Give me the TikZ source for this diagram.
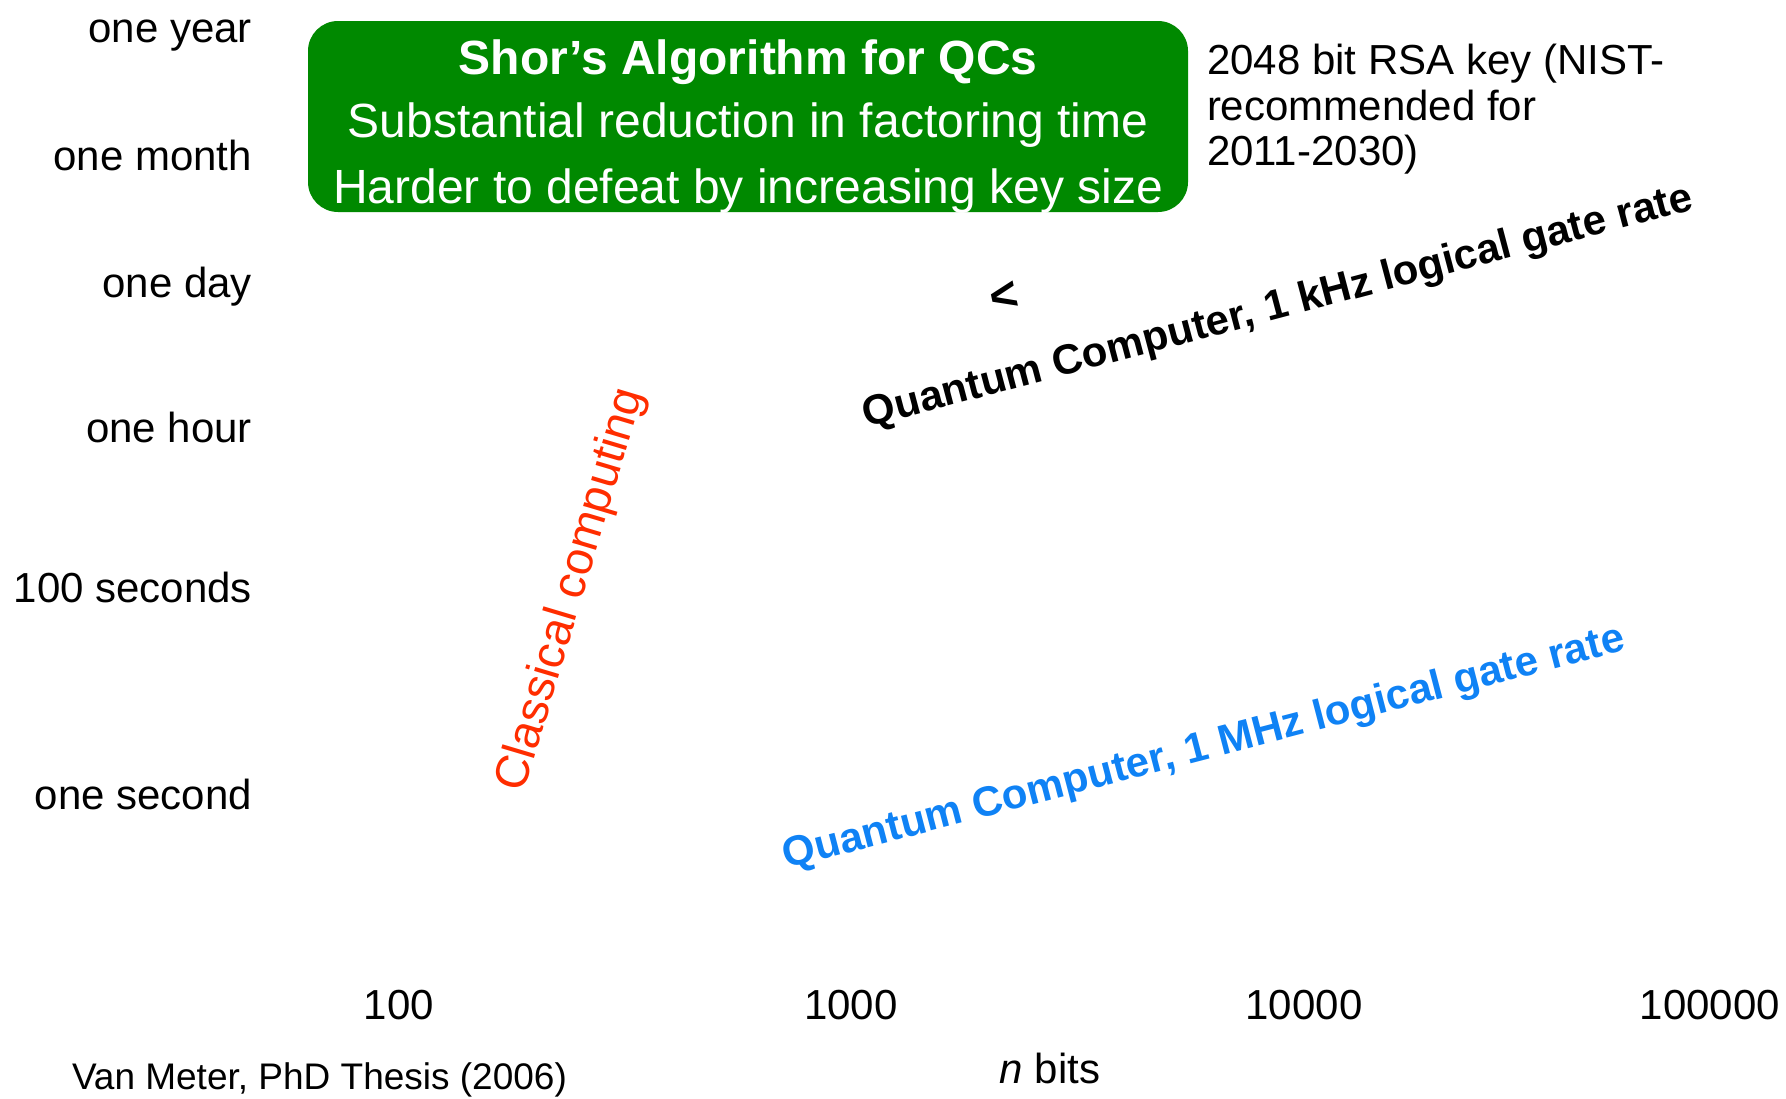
\documentclass[tikz,border=0pt]{standalone}
\usepackage{fontspec}
\setmainfont{Liberation Sans}
\definecolor{shorgreen}{RGB}{0,137,0}
\definecolor{classred}{RGB}{255,45,0}
\definecolor{qcblue}{RGB}{15,130,245}
\tikzset{
  lab/.style={inner sep=0pt, outer sep=0pt, font=\fontsize{42}{46}\selectfont},
  ylab/.style={lab, anchor=base east},
  xlab/.style={lab, anchor=base},
  rsa/.style={lab, anchor=base west},
  shorbox/.style={fill=shorgreen, draw=none, rounded corners=30pt,
    minimum width=880pt, minimum height=191pt, inner sep=0pt},
  boxline/.style={inner sep=0pt, anchor=base, text=white,
    font=\fontsize{48}{52}\selectfont},
  boxtitle/.style={boxline, font=\fontsize{48}{52}\selectfont\bfseries},
  curve/.style={inner sep=0pt, font=\fontsize{42}{46}\selectfont\bfseries},
}
\begin{document}
\begin{tikzpicture}[x=1pt, y=-1pt]
  \useasboundingbox (0,0) rectangle (1786,1098);

  % time axis labels
  \node[ylab] (year)   at (252,42)  {one year};
  \node[ylab] (month)  at (252,170) {one month};
  \node[ylab] (day)    at (252,297) {one day};
  \node[ylab] (hour)   at (252,442) {one hour};
  \node[ylab] (hundred) at (252,602) {100 seconds};
  \node[ylab] (second) at (252,809) {one second};

  % key-size axis labels
  \node[xlab] (n2) at (399,1019)  {100};
  \node[xlab] (n3) at (851,1019)  {1000};
  \node[xlab] (n4) at (1304,1019) {10000};
  \node[xlab] (n5) at (1710,1019) {100000};
  \node[xlab] (nbits) at (1050,1083) {\textit{n} bits};
  \node[lab, anchor=base west, font=\fontsize{37}{40}\selectfont] (cite) at (72,1089)
    {Van Meter, PhD Thesis (2006)};

  % Shor's algorithm box
  \node[shorbox] (shor) at (748,116.5) {};
  \node[boxtitle] (shor1) at (748,74)  {Shor’s Algorithm for QCs};
  \node[boxline]  (shor2) at (748,137) {Substantial reduction in factoring time};
  \node[boxline]  (shor3) at (748,203) {Harder to defeat by increasing key size};

  % RSA key note
  \node[rsa] (rsa1) at (1207,74)  {2048 bit RSA key (NIST-};
  \node[rsa] (rsa2) at (1207,120) {recommended for};
  \node[rsa] (rsa3) at (1207,165) {2011-2030)};

  % curve labels
  \node[inner sep=0pt, text=classred, rotate=73.4, font=\fontsize{47}{50}\selectfont]
    (classical) at (572,590) {Classical computing};
  \node[curve, rotate=14.8] (qckhz) at (1278,308) {Quantum Computer, 1 kHz logical gate rate};
  \node[curve, text=qcblue, rotate=14.6] (qcmhz) at (1204,749) {Quantum Computer, 1 MHz logical gate rate};
  \node[curve, rotate=12, font=\fontsize{48}{50}\selectfont\bfseries] (mark) at (1004,297) {<};
\end{tikzpicture}
\end{document}
